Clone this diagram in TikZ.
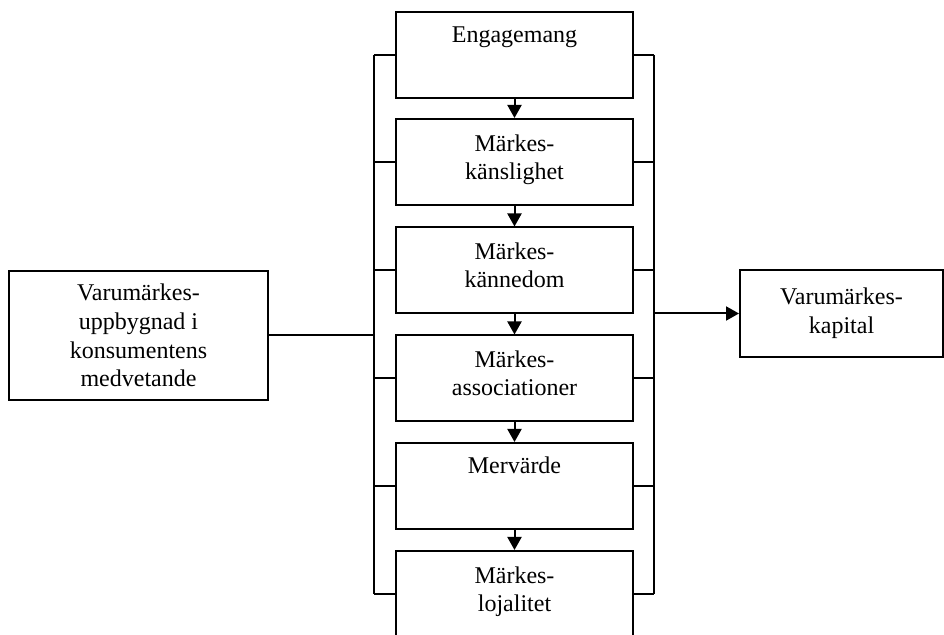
\documentclass[tikz,border=0pt]{standalone}
\usepackage{fontspec}
\setmainfont{Liberation Serif}
\usetikzlibrary{arrows.meta,positioning}
\tikzstyle{box} = [draw, rectangle, line width=1pt, minimum width=118.5pt, minimum height=43pt, inner sep=0pt]
\tikzstyle{txt} = [align=center, font=\fontsize{12}{14.4}\selectfont]
\tikzstyle{lbl} = [txt, inner sep=0pt, anchor=base]
\tikzstyle{line} = [line width=1pt]
\tikzstyle{arrow} = [line width=1pt,-{Triangle[length=6.5pt,width=7pt]}]

\begin{document}
\begin{tikzpicture}[x=0.5pt,y=-0.5pt] % one unit = one pixel of the sketch
\useasboundingbox (0,0) rectangle (944,635);
% middle column
\node (b1) [box] at (514.5,55) {};
\node (b2) [box] at (514.5,162) {};
\node (b3) [box] at (514.5,270.5) {};
\node (b4) [box] at (514.5,378.5) {};
\node (b5) [box] at (514.5,486) {};
\node (b6) [box] at (514.5,594) {};
% base = last line, so two-line labels sit one line lower
\node (t1) [lbl] at (514.5,43) {Engagemang};
\node (t2) [lbl] at (514.5,180) {Märkes-\\känslighet};
\node (t3) [lbl] at (514.5,288) {Märkes-\\kännedom};
\node (t4) [lbl] at (514.5,396) {Märkes-\\associationer};
\node (t5) [lbl] at (514.5,474) {Mervärde};
\node (t6) [lbl] at (514.5,612) {Märkes-\\lojalitet};
\draw [arrow] (b1) -- (b2);
\draw [arrow] (b2) -- (b3);
\draw [arrow] (b3) -- (b4);
\draw [arrow] (b4) -- (b5);
\draw [arrow] (b5) -- (b6);
% side boxes
\node (in) [box, txt, minimum width=129.5pt, minimum height=64.5pt] at (138.5,335.5) {Varumärkes-\\uppbygnad i\\konsumentens\\medvetande};
\node (out) [box, txt, minimum width=101.5pt, minimum height=43.5pt] at (841.5,313.5) {Varumärkes-\\kapital};
% brackets
\coordinate (ltop) at (374,55);
\coordinate (lbot) at (374,594);
\coordinate (rtop) at (654,55);
\coordinate (rbot) at (654,594);
\coordinate (rmid) at (654,313.5);
\draw [line] (ltop) -- (lbot);
\draw [line] (rtop) -- (rbot);
\draw [line] (b1.west) -- (b1.west -| ltop);
\draw [line] (b2.west) -- (b2.west -| ltop);
\draw [line] (b3.west) -- (b3.west -| ltop);
\draw [line] (b4.west) -- (b4.west -| ltop);
\draw [line] (b5.west) -- (b5.west -| ltop);
\draw [line] (b6.west) -- (b6.west -| ltop);
\draw [line] (b1.east) -- (b1.east -| rtop);
\draw [line] (b2.east) -- (b2.east -| rtop);
\draw [line] (b3.east) -- (b3.east -| rtop);
\draw [line] (b4.east) -- (b4.east -| rtop);
\draw [line] (b5.east) -- (b5.east -| rtop);
\draw [line] (b6.east) -- (b6.east -| rtop);
\draw [line] (in.east) -- (in.east -| ltop);
\draw [arrow] (rmid) -- (out.west);
\end{tikzpicture}
\end{document}
